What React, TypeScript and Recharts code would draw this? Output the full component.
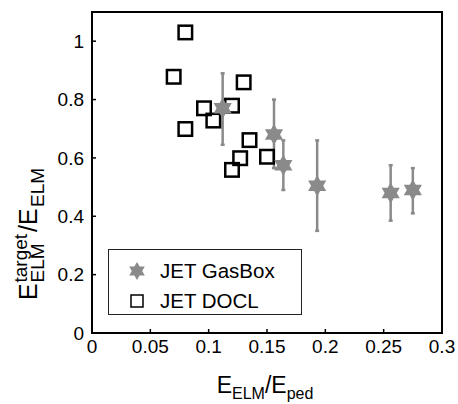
import React from 'react';
import {
  ScatterChart,
  Scatter,
  XAxis,
  YAxis,
  ErrorBar,
  ReferenceArea,
  Legend,
} from 'recharts';

// JET GasBox (stars with asymmetric error bars)
const gasBoxX = [0.112, 0.156, 0.164, 0.193, 0.256, 0.275];
const gasBoxY = [0.77, 0.68, 0.575, 0.505, 0.48, 0.49];
const gasBoxHigh = [0.89, 0.8, 0.66, 0.66, 0.575, 0.565];
const gasBoxLow = [0.645, 0.565, 0.49, 0.35, 0.385, 0.41];

// JET DOCL (open squares)
const doclX = [0.08, 0.07, 0.13, 0.096, 0.12, 0.104, 0.08, 0.135, 0.127, 0.15, 0.12];
const doclY = [1.03, 0.878, 0.859, 0.77, 0.779, 0.728, 0.699, 0.661, 0.599, 0.604, 0.559];

const xTicks = [0, 0.05, 0.1, 0.15, 0.2, 0.25, 0.3];
const yTicks = [0, 0.2, 0.4, 0.6, 0.8, 1];

const seriesNames = ['JET GasBox', 'JET DOCL'];

const GREY = '#8a8a8a';
const FONT = '"Liberation Sans", Arial, Helvetica, sans-serif';

const gasBoxData = gasBoxX.map((x, i) => ({
  x,
  y: gasBoxY[i],
  err: [gasBoxY[i] - gasBoxLow[i], gasBoxHigh[i] - gasBoxY[i]],
}));
const doclData = doclX.map((x, i) => ({ x, y: doclY[i] }));

function hexagramPath(cx: number, cy: number, r: number) {
  const inner = r / Math.sqrt(3);
  const pts: string[] = [];
  for (let k = 0; k < 12; k++) {
    const rad = k % 2 === 0 ? r : inner;
    const a = -Math.PI / 2 + (k * Math.PI) / 6;
    pts.push(`${cx + rad * Math.cos(a)},${cy + rad * Math.sin(a)}`);
  }
  return `M${pts.join('L')}Z`;
}

const StarShape = (p: any) => <path d={hexagramPath(p.cx, p.cy, 10.5)} fill={GREY} />;

const SquareShape = (p: any) => (
  <rect x={p.cx - 6.75} y={p.cy - 6.75} width={13.5} height={13.5} fill="none" stroke="#000" strokeWidth={2.5} />
);

const renderLegend = () => (
  <div
    style={{
      width: 194,
      height: 66,
      boxSizing: 'border-box',
      border: '1px solid #222',
      background: '#fff',
      position: 'relative',
    }}
  >
    <svg width={192} height={64} style={{ position: 'absolute', left: 0, top: 0 }}>
      <path d={hexagramPath(28, 21, 9)} fill={GREY} />
      <text x={51} y={21} dy="0.36em" fontSize={20.5} fontFamily={FONT} fill="#000">
        {seriesNames[0]}
      </text>
      <rect x={22} y={45} width={12} height={12} fill="none" stroke="#000" strokeWidth={1.5} />
      <text x={51} y={51} dy="0.36em" fontSize={20.5} fontFamily={FONT} fill="#000">
        {seriesNames[1]}
      </text>
    </svg>
  </div>
);

const XLabel = (props: any) => {
  const vb = props.viewBox || { x: 92, y: 333, width: 350 };
  const cx = vb.x + vb.width / 2;
  return (
    <text x={cx - 2} y={393} textAnchor="middle" fontFamily={FONT} fill="#000" fontSize={23}>
      <tspan>E</tspan>
      <tspan fontSize={16} dy={6}>ELM</tspan>
      <tspan fontSize={23} dy={-6}>/E</tspan>
      <tspan fontSize={16} dy={6}>ped</tspan>
    </text>
  );
};

const YLabel = () => (
  <g transform="translate(37,300) rotate(-90)" fontFamily={FONT} fill="#000">
    <text x={0} y={0} fontSize={25}>E</text>
    <text x={17.5} y={-10.5} fontSize={19}>target</text>
    <text x={17.5} y={7} fontSize={19}>ELM</text>
    <text x={68} y={0} fontSize={25}>/E</text>
    <text x={93} y={7} fontSize={19}>ELM</text>
  </g>
);

export default function App() {
  return (
    <div style={{ position: 'absolute', left: 0, top: 0, background: '#fff' }}>
      <ScatterChart width={458} height={404} margin={{ top: 12, right: 16, bottom: 41, left: 32 }}>
        <XAxis
          type="number"
          dataKey="x"
          domain={[0, 0.3]}
          ticks={xTicks}
          height={30}
          tickSize={-4}
          tickMargin={11}
          axisLine={{ stroke: '#000', strokeWidth: 2 }}
          tickLine={{ stroke: '#000', strokeWidth: 1.5 }}
          tick={{ fill: '#000', fontSize: 19, fontFamily: FONT }}
          interval={0}
          label={<XLabel />}
        />
        <YAxis
          type="number"
          dataKey="y"
          domain={[0, 1.1]}
          ticks={yTicks}
          width={60}
          tickSize={-4}
          tickMargin={12}
          axisLine={{ stroke: '#000', strokeWidth: 2 }}
          tickLine={{ stroke: '#000', strokeWidth: 1.5 }}
          tick={{ fill: '#000', fontSize: 19, fontFamily: FONT }}
          interval={0}
          label={<YLabel />}
        />
        <ReferenceArea x1={0} x2={0.3} y1={0} y2={1.1} fill="none" fillOpacity={0} stroke="#000" strokeWidth={2} />
        <Scatter name={seriesNames[1]} data={doclData} shape={SquareShape} isAnimationActive={false} />
        <Scatter name={seriesNames[0]} data={gasBoxData} shape={StarShape} isAnimationActive={false}>
          <ErrorBar dataKey="err" direction="y" width={2} stroke={GREY} strokeWidth={2.5} isAnimationActive={false} />
        </Scatter>
        <Legend
          layout="vertical"
          align="center"
          verticalAlign="middle"
          width={194}
          height={66}
          wrapperStyle={{ left: 108, top: 249, width: 194, height: 66 }}
          content={renderLegend}
        />
      </ScatterChart>
    </div>
  );
}
